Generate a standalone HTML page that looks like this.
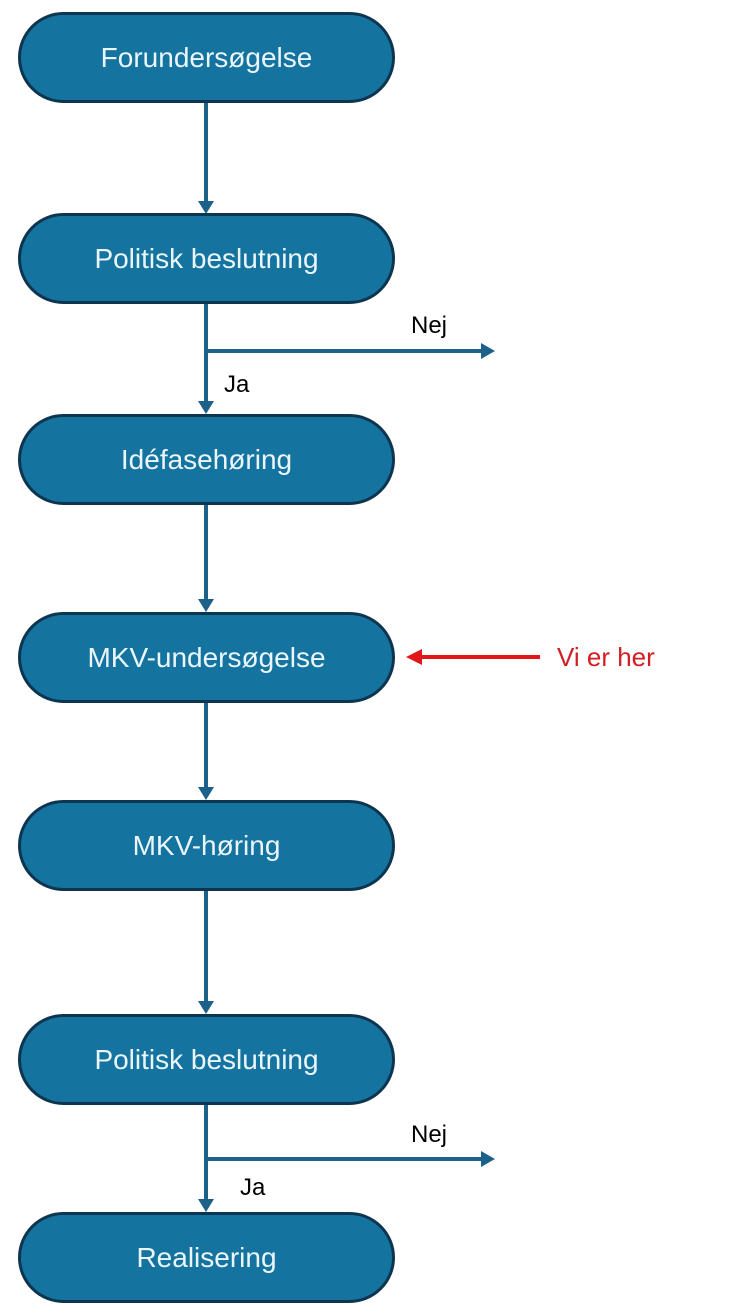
<!DOCTYPE html>
<html><head><style>
body{margin:0;width:729px;height:1315px;background:#fff;position:relative;overflow:hidden;font-family:"Liberation Sans",sans-serif}
.n{position:absolute;left:18px;width:371px;height:85px;border:3px solid #0d3550;border-radius:46px;background:#14739f;color:#eaf6fb;font-size:28px;display:flex;align-items:center;justify-content:center}
.t{position:absolute;font-size:24px;color:#000}
</style></head><body>
<svg width="729" height="1315" style="position:absolute;left:0;top:0">
<g stroke="#1b6189" stroke-width="4" fill="none">
<line x1="206" y1="100" x2="206" y2="203"/>
<line x1="206" y1="302" x2="206" y2="403"/>
<line x1="206" y1="351" x2="483" y2="351"/>
<line x1="206" y1="503" x2="206" y2="601"/>
<line x1="206" y1="702" x2="206" y2="789"/>
<line x1="206" y1="890" x2="206" y2="1003"/>
<line x1="206" y1="1104" x2="206" y2="1201"/>
<line x1="206" y1="1159" x2="483" y2="1159"/>
</g>
<g fill="#1b6189">
<polygon points="198,201 214,201 206,214"/>
<polygon points="198,401 214,401 206,414"/>
<polygon points="481,343 481,359 495,351"/>
<polygon points="198,599 214,599 206,612"/>
<polygon points="198,787 214,787 206,800"/>
<polygon points="198,1001 214,1001 206,1014"/>
<polygon points="198,1199 214,1199 206,1212"/>
<polygon points="481,1151 481,1167 495,1159"/>
</g>
<line x1="420" y1="657" x2="540" y2="657" stroke="#e0161b" stroke-width="4"/>
<polygon points="406,657 422,649 422,665" fill="#e0161b"/>
</svg>
<div class="n" style="top:12px">Forundersøgelse</div>
<div class="n" style="top:213px">Politisk beslutning</div>
<div class="n" style="top:414px">Idéfasehøring</div>
<div class="n" style="top:612px">MKV-undersøgelse</div>
<div class="n" style="top:800px">MKV-høring</div>
<div class="n" style="top:1014px">Politisk beslutning</div>
<div class="n" style="top:1212px">Realisering</div>
<div class="t" style="left:411px;top:312px">Nej</div>
<div class="t" style="left:224px;top:371px">Ja</div>
<div class="t" style="left:411px;top:1121px">Nej</div>
<div class="t" style="left:240px;top:1174px">Ja</div>
<div class="t" style="left:557px;top:642px;color:#d21e24;font-size:26px">Vi er her</div>
</body></html>
